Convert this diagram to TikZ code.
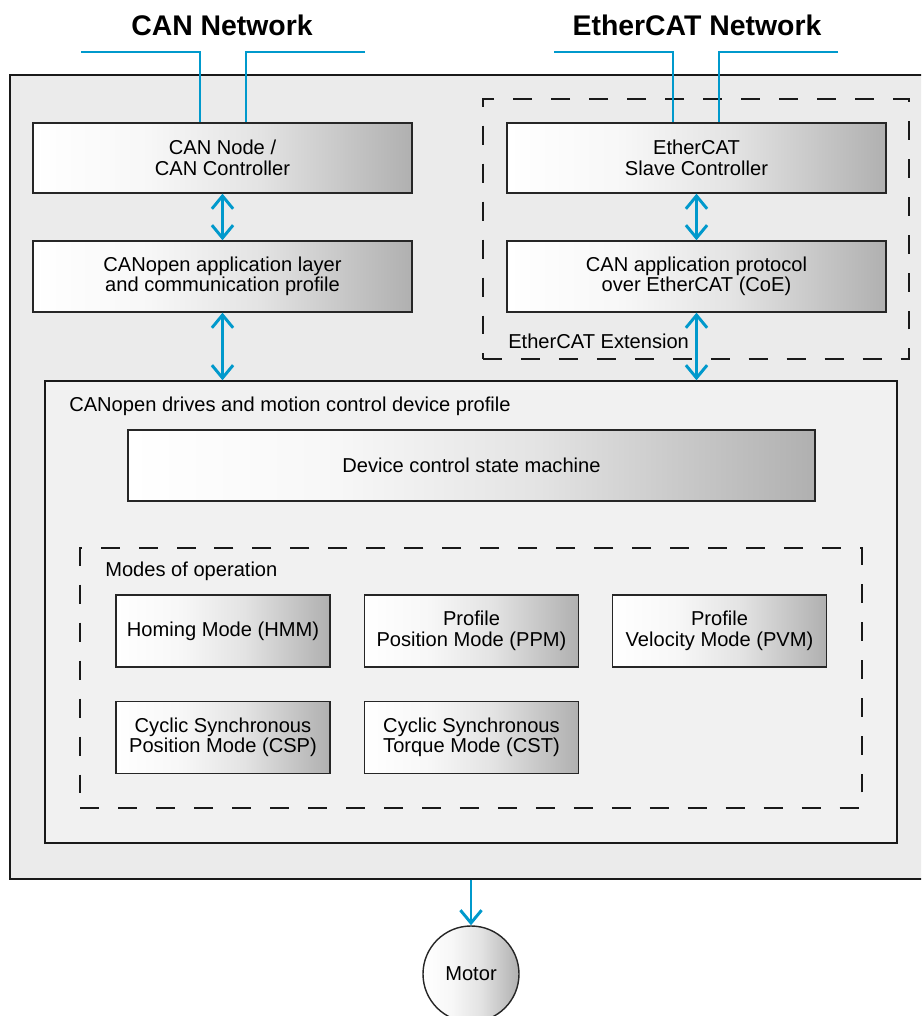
\documentclass[tikz,border=0pt]{standalone}
\usepackage{fontspec}
\setmainfont{Liberation Sans}
\usetikzlibrary{arrows.meta}
\definecolor{busblue}{RGB}{0,153,204}
\definecolor{panelgray}{RGB}{235,235,235}
\pgfdeclarehorizontalshading{layershade}{100bp}{color(0bp)=(white); color(25bp)=(white); color(40bp)=(black!3); color(55bp)=(black!11); color(68bp)=(black!24); color(75bp)=(black!31); color(100bp)=(black!31)}

\begin{document}
\begin{tikzpicture}[
    layer/.style={draw=black!85, line width=1pt, shade, shading=layershade, align=center, font=\fontsize{14.3}{14.6}\selectfont, inner sep=2pt},
    panel/.style={draw=black!90, line width=1pt, fill=panelgray, inner sep=0pt},
    group/.style={draw=black!90, line width=1.3pt, dash pattern=on 13.5pt off 13.5pt, inner sep=0pt},
    caption/.style={font=\fontsize{14.3}{14.6}\selectfont, inner sep=0pt, anchor=west},
    title/.style={font=\fontsize{20.2}{23}\selectfont\bfseries},
    bus/.style={draw=busblue, line width=2.1pt},
    link/.style={bus, {Straight Barb[length=3.2mm, width=5.3mm]}-{Straight Barb[length=3.2mm, width=5.3mm]}}
  ]
  \useasboundingbox (0,0) rectangle (23.025,25.4);
  \clip (0,0) rectangle (23.025,25.4);
  % Paths, nodes and wires:
  \node[title](cantitle) at (5.55, 24.775){CAN Network};
  \node[title](ecattitle) at (17.425, 24.775){EtherCAT Network};
  \node[panel, minimum width=23.25cm, minimum height=20.1cm](board) at (11.875, 13.475){};
  \node[group, minimum width=10.65cm, minimum height=6.5cm](ecatext) at (17.4, 19.675){};
  \node[caption](ecatlabel) at (12.7, 16.875){EtherCAT Extension};
  \node[layer, minimum width=9.475cm, minimum height=1.75cm](cannode) at (5.5625, 21.45){CAN Node /\\CAN Controller};
  \node[layer, minimum width=9.475cm, minimum height=1.775cm](canapp) at (5.5625, 18.4875){CANopen application layer\\and communication profile};
  \node[layer, minimum width=9.475cm, minimum height=1.75cm](esc) at (17.4125, 21.45){EtherCAT\\Slave Controller};
  \node[layer, minimum width=9.475cm, minimum height=1.775cm](coe) at (17.4125, 18.4875){CAN application protocol\\over EtherCAT (CoE)};
  \node[panel, fill=panelgray!70!white, minimum width=21.3cm, minimum height=11.55cm](profile) at (11.775, 10.1){};
  \node[caption](profilelabel) at (1.725, 15.25){CANopen drives and motion control device profile};
  \node[layer, minimum width=17.175cm, minimum height=1.775cm](dcsm) at (11.7875, 13.7625){Device control state machine};
  \node[group, minimum width=19.54cm, minimum height=6.5cm](modes) at (11.78, 8.45){};
  \node[caption](modeslabel) at (2.625, 11.125){Modes of operation};
  \node[layer, minimum width=5.35cm, minimum height=1.8cm](hmm) at (5.575, 9.625){Homing Mode (HMM)};
  \node[layer, minimum width=5.35cm, minimum height=1.8cm](ppm) at (11.7875, 9.625){Profile\\Position Mode (PPM)};
  \node[layer, minimum width=5.35cm, minimum height=1.8cm](pvm) at (17.9875, 9.625){Profile\\Velocity Mode (PVM)};
  \node[layer, minimum width=5.35cm, minimum height=1.8cm](csp) at (5.575, 6.9625){Cyclic Synchronous\\Position Mode (CSP)};
  \node[layer, minimum width=5.35cm, minimum height=1.8cm](cst) at (11.7875, 6.9625){Cyclic Synchronous\\Torque Mode (CST)};
  \node[layer, circle, minimum size=2.4cm, inner sep=0pt](motor) at (11.775, 1.05){Motor};
  % network wires
  \coordinate (canbusL) at (2.025, 24.1);
  \coordinate (canbusR) at (9.125, 24.1);
  \coordinate (ecatbusL) at (13.85, 24.1);
  \coordinate (ecatbusR) at (20.95, 24.1);
  \draw[bus] (canbusL) -| ([xshift=-0.5625cm]cannode.north);
  \draw[bus] (canbusR) -| ([xshift=0.5875cm]cannode.north);
  \draw[bus] (ecatbusL) -| ([xshift=-0.5875cm]esc.north);
  \draw[bus] (ecatbusR) -| ([xshift=0.5625cm]esc.north);
  % arrows
  \draw[link] (cannode.south) -- (canapp.north);
  \draw[link] (canapp.south) -- (canapp.south |- profile.north);
  \draw[link] (esc.south) -- (coe.north);
  \draw[link] (coe.south) -- (coe.south |- profile.north);
  \draw[bus, -{Straight Barb[length=3.2mm, width=5.3mm]}] (motor.north |- board.south) -- (motor.north);
\end{tikzpicture}
\end{document}
